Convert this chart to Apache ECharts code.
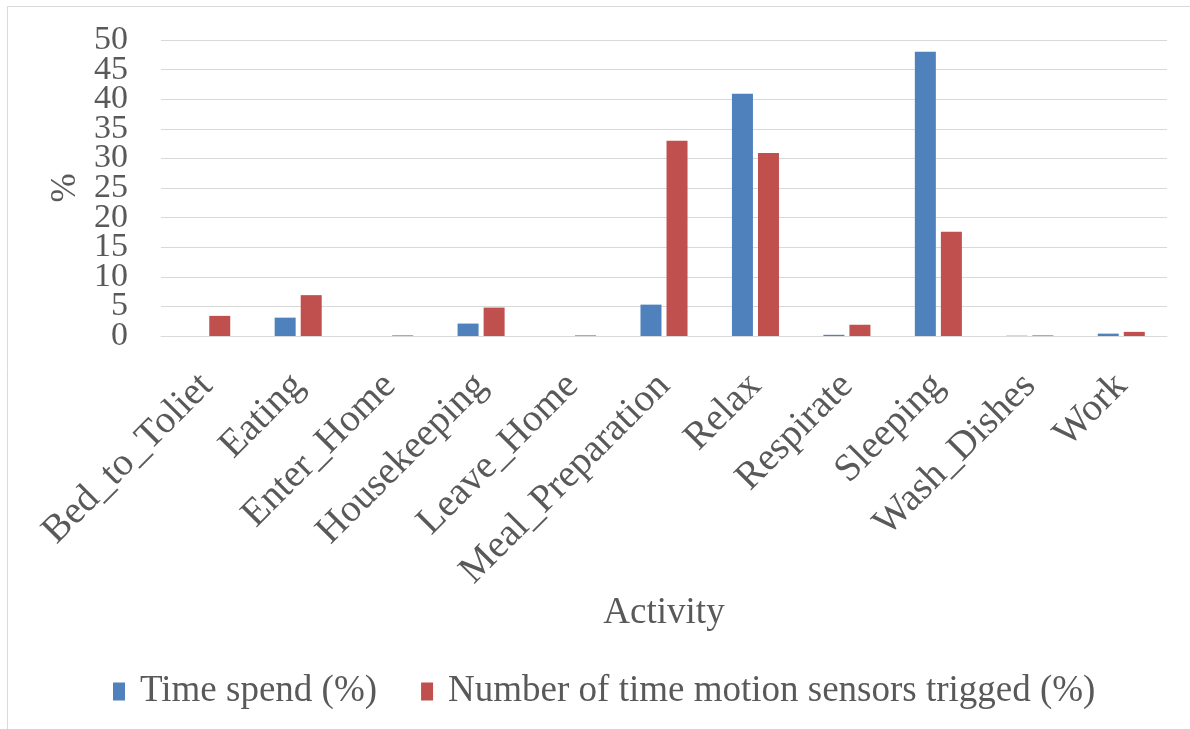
<!DOCTYPE html>
<html>
<head>
<meta charset="utf-8">
<script src="https://cdn.jsdelivr.net/npm/echarts@6/dist/echarts.min.js"></script>
<style>
html,body{margin:0;padding:0;background:#fff;}
#chart{width:1190px;height:729px;}
</style>
</head>
<body>
<div id="chart"></div>
<script>
const categories = ['Bed_to_Toliet','Eating','Enter_Home','Housekeeping','Leave_Home','Meal_Preparation','Relax','Respirate','Sleeping','Wash_Dishes','Work'];
const timeSpend = [0, 3.1, 0, 2.1, 0, 5.3, 40.9, 0.2, 48.0, 0.05, 0.4];
const sensorsTriggered = [3.4, 6.9, 0.1, 4.8, 0.1, 33.0, 30.9, 1.9, 17.6, 0.1, 0.7];
const seriesNames = ['Time spend (%)', 'Number of time motion sensors trigged (%)'];
const yTicks = {min: 0, max: 50, interval: 5};

const font = '"Liberation Serif", "Times New Roman", serif';
const textColor = '#595959';
const labelBase = {margin: 33, fontFamily: font, fontSize: 34, color: textColor,
                   showMinLabel: true, showMaxLabel: true, hideOverlap: false};
const chart = echarts.init(document.getElementById('chart'));
chart.setOption({
  animation: false,
  textStyle: {fontFamily: font},
  graphic: [{
    type: 'rect', shape: {x: 7.5, y: 6.5, width: 1200, height: 800},
    style: {fill: 'none', stroke: '#D9D9D9', lineWidth: 1}, z: -1
  }],
  grid: {left: 161, right: 23, top: 40, bottom: 393},
  legend: {
    bottom: 14, left: 108,
    itemWidth: 12, itemHeight: 18, itemGap: 44,
    icon: 'rect',
    textStyle: {fontFamily: font, fontSize: 37, color: textColor, padding: [0, 0, 0, 10]},
    data: seriesNames
  },
  xAxis: {
    type: 'category', data: categories,
    name: 'Activity', nameLocation: 'middle', nameGap: 251,
    nameTextStyle: {fontFamily: font, fontSize: 37, color: textColor},
    axisLine: {show: true, lineStyle: {color: '#D9D9D9', width: 1}},
    axisTick: {show: false},
    axisLabel: {rotate: 45, margin: 44, interval: 0, fontFamily: font, fontSize: 39, color: textColor}
  },
  yAxis: [{
    type: 'value', position: 'left', min: yTicks.min, max: yTicks.max, interval: yTicks.interval,
    name: '%', nameLocation: 'middle', nameGap: 78, nameRotate: 90,
    nameTextStyle: {fontFamily: font, fontSize: 35, color: textColor},
    axisLine: {show: false}, axisTick: {show: false},
    axisLabel: Object.assign({}, labelBase, {formatter: v => (v % 10 === 0 ? String(v) : '')}),
    splitLine: {lineStyle: {color: '#D9D9D9', width: 1}}
  }, {
    type: 'value', position: 'left', offset: 0, min: yTicks.min, max: yTicks.max, interval: yTicks.interval,
    axisLine: {show: false}, axisTick: {show: false}, splitLine: {show: false},
    axisLabel: Object.assign({}, labelBase, {formatter: v => (v % 10 !== 0 ? String(v) : '')})
  }],
  series: [
    {name: seriesNames[0], type: 'bar', data: timeSpend, barWidth: 21, barGap: '24%',
     itemStyle: {color: '#4F81BD'}},
    {name: seriesNames[1], type: 'bar', data: sensorsTriggered, barWidth: 21,
     itemStyle: {color: '#C0504D'}}
  ]
});
</script>
</body>
</html>
